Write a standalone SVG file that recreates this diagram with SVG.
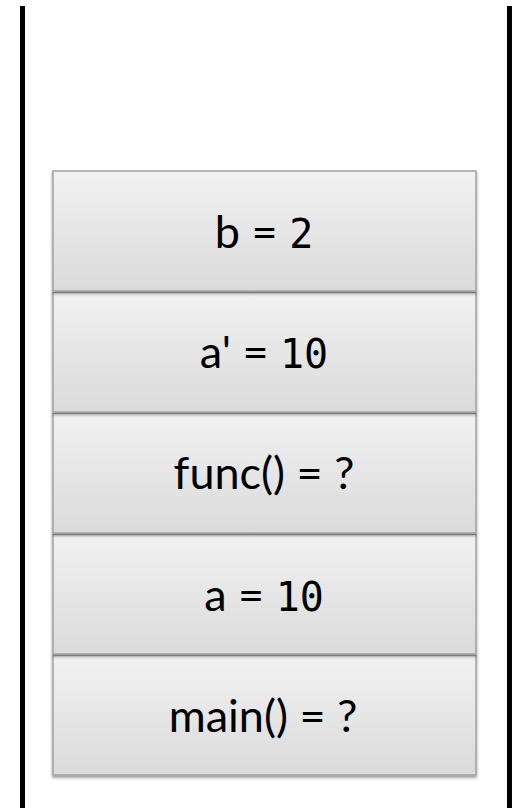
<svg xmlns="http://www.w3.org/2000/svg" width="513" height="808" viewBox="0 0 513 808">
  <style>
    .box { fill: url(#g); stroke: #a3a3a3; stroke-width: 1.5; filter: url(#sh); }
    .t { font-family: Lato, "Open Sans", "Liberation Sans", sans-serif; font-size: 45px; fill: #000; text-anchor: middle; }
    .m { font-family: "DejaVu Sans Mono", "Liberation Mono", monospace; font-size: 40px; }
    .wall { fill: #000; }
  </style>
  <defs>
    <linearGradient id="g" x1="0" y1="0" x2="0" y2="1">
      <stop offset="0" stop-color="#f2f2f2"/>
      <stop offset="1" stop-color="#dadada"/>
    </linearGradient>
    <filter id="sh" x="-5%" y="-5%" width="110%" height="115%">
      <feDropShadow dx="0" dy="2" stdDeviation="1.8" flood-color="#000" flood-opacity="0.4"/>
    </filter>
  </defs>
  <rect width="513" height="808" fill="#fefefe"/>
  <g id="walls">
    <rect class="wall" x="20" y="6" width="5" height="802"/>
    <rect class="wall" x="507" y="6" width="5" height="802"/>
  </g>
  <g id="main">
    <rect class="box" x="53" y="655" width="423" height="120"/>
    <text class="t" x="263" y="732">main() = ?</text>
  </g>
  <g id="a">
    <rect class="box" x="53" y="534" width="423" height="120"/>
    <text class="t" x="264" y="611">a = <tspan class="m">10</tspan></text>
  </g>
  <g id="func">
    <rect class="box" x="53" y="413" width="423" height="120"/>
    <text class="t" x="264" y="489">func() = ?</text>
  </g>
  <g id="aprime">
    <rect class="box" x="53" y="292" width="423" height="120"/>
    <text class="t" x="264" y="368">a' = <tspan class="m">10</tspan></text>
  </g>
  <g id="b">
    <rect class="box" x="53" y="171" width="423" height="120"/>
    <text class="t" x="264" y="248">b = <tspan class="m">2</tspan></text>
  </g>
  <g id="connectors"/>
</svg>
